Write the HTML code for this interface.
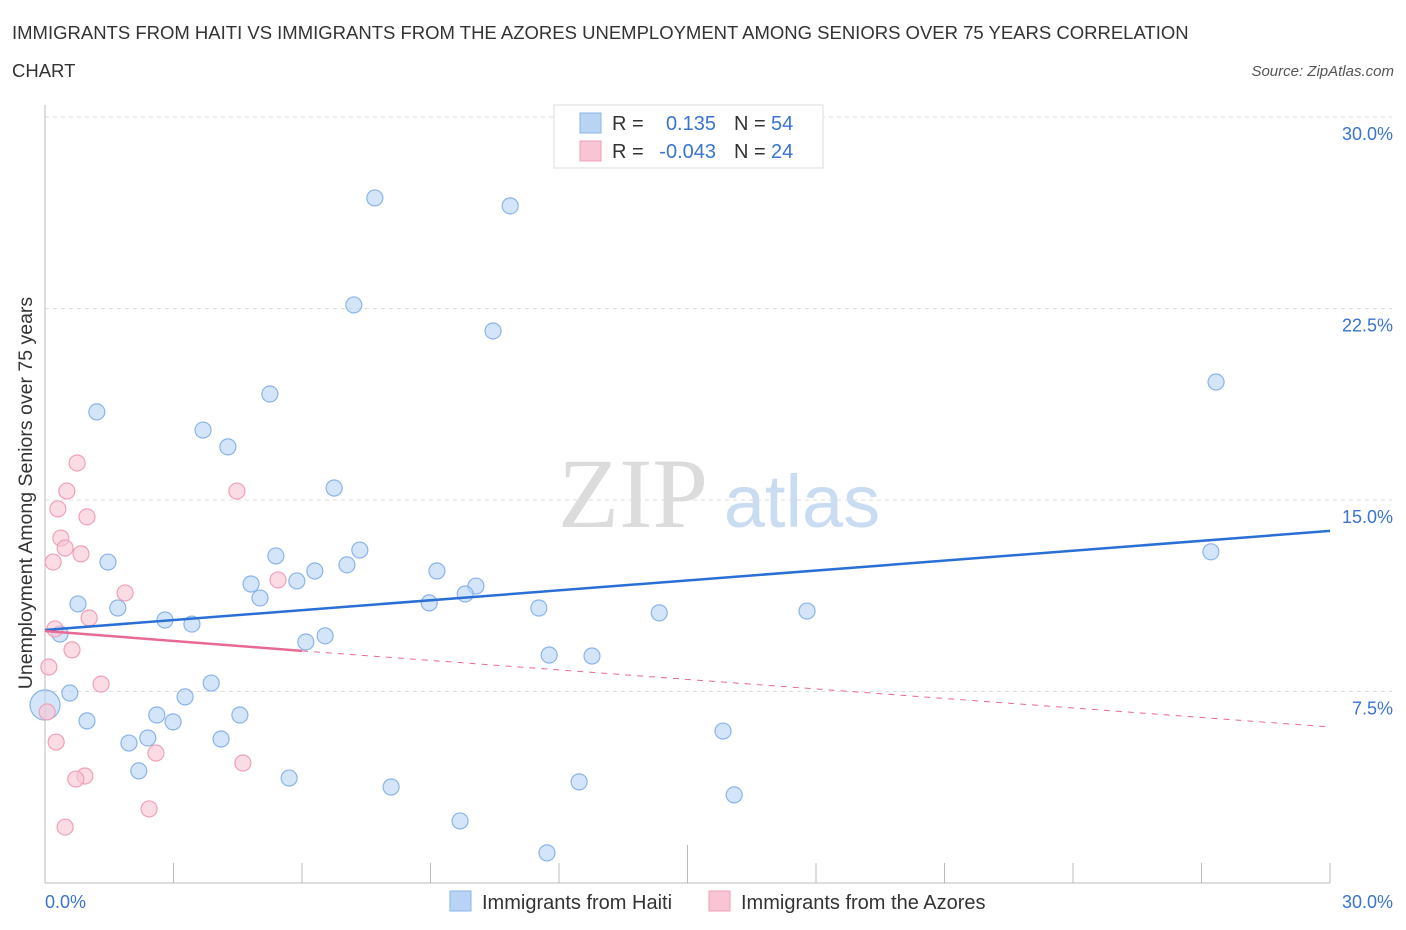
<!DOCTYPE html>
<html><head><meta charset="utf-8"><style>
body{margin:0;background:#fff;font-family:"Liberation Sans",sans-serif;}
svg{display:block}
</style></head><body>
<svg id="c" width="1406" height="930" xmlns="http://www.w3.org/2000/svg">
<text x="12" y="39" font-size="18.5" fill="#333">IMMIGRANTS FROM HAITI VS IMMIGRANTS FROM THE AZORES UNEMPLOYMENT AMONG SENIORS OVER 75 YEARS CORRELATION</text>
<text x="12" y="77" font-size="18.5" fill="#333">CHART</text>
<text x="1394" y="76" font-size="15" fill="#555" font-style="italic" text-anchor="end">Source: ZipAtlas.com</text>
<g>
<text x="633" y="527" font-size="100" font-family="Liberation Serif,serif" fill="#dcdcdc" text-anchor="middle">ZIP</text>
<text x="802" y="527" font-size="74" fill="#c9dcf2" text-anchor="middle">atlas</text>
</g>
<g id="grid"></g><g id="axes"></g><g id="pts"></g><g id="trend"></g>
<text x="32" y="493" font-size="19.5" fill="#333" text-anchor="middle" transform="rotate(-90 32 493)">Unemployment Among Seniors over 75 years</text>
<g>
<rect x="554" y="105" width="269" height="63" fill="#fff" stroke="#ddd"/>
<rect x="580" y="113" width="21" height="20" fill="#b9d3f5" stroke="#8ab4e8"/>
<rect x="580" y="141" width="21" height="20" fill="#f9c4d3" stroke="#f0a0b8"/>
<text x="612" y="130" font-size="20" fill="#333">R =</text>
<text x="716" y="130" font-size="20" fill="#3a74d0" text-anchor="end">0.135</text>
<text x="734" y="130" font-size="20" fill="#333">N =</text>
<text x="771" y="130" font-size="20" fill="#3a74d0">54</text>
<text x="612" y="158" font-size="20" fill="#333">R =</text>
<text x="716" y="158" font-size="20" fill="#3a74d0" text-anchor="end">-0.043</text>
<text x="734" y="158" font-size="20" fill="#333">N =</text>
<text x="771" y="158" font-size="20" fill="#3a74d0">24</text>
</g>
<g>
<rect x="450" y="891" width="21" height="20" fill="#b9d3f5" stroke="#8ab4e8"/>
<text x="482" y="909" font-size="20" fill="#333">Immigrants from Haiti</text>
<rect x="709" y="891" width="21" height="20" fill="#f9c4d3" stroke="#f0a0b8"/>
<text x="741" y="909" font-size="20" fill="#333">Immigrants from the Azores</text>
</g>
</svg>
<script>
const haitiX=[7.70,10.86,7.21,10.46,27.34,1.21,5.25,3.69,4.27,6.75,7.35,5.39,1.47,7.05,6.30,5.88,4.81,5.02,9.15,10.06,9.81,8.97,0.77,1.70,11.53,14.34,17.79,27.22,2.80,3.43,0.35,6.54,6.09,11.77,12.77,0.58,0,3.27,3.88,0.98,2.61,2.99,4.55,2.40,1.96,4.11,15.83,2.19,5.70,8.08,12.47,16.09,9.69,11.72];
const haitiY=[26.83,26.52,22.64,21.62,19.62,18.45,19.15,17.74,17.08,15.47,13.04,12.81,12.57,12.46,12.22,11.83,11.71,11.16,12.22,11.63,11.32,10.97,10.93,10.77,10.77,10.58,10.65,12.97,10.30,10.14,9.75,9.68,9.44,8.93,8.89,7.44,6.97,7.29,7.83,6.35,6.58,6.31,6.58,5.68,5.48,5.64,5.95,4.39,4.11,3.76,3.96,3.45,2.43,1.18];
const azoresX=[0.75,0.51,4.48,0.30,0.98,0.37,0.47,0.84,0.19,1.87,1.03,0.23,0.63,0.09,1.31,5.44,0.05,0.26,2.59,4.62,0.93,0.72,2.43,0.47];
const azoresY=[16.45,15.35,15.35,14.65,14.34,13.51,13.12,12.89,12.57,11.36,10.38,9.95,9.13,8.46,7.79,11.87,6.70,5.52,5.09,4.70,4.19,4.07,2.90,2.19];
const yTicks=[7.5,15,22.5,30];
const yTickLabels=["7.5%","15.0%","22.5%","30.0%"];
const haitiTrend=[9.91,13.79];
const azoresTrend=[9.87,9.09,6.11];
const azoresSolidEnd=6;
const NS="http://www.w3.org/2000/svg";
const X0=45,X1=1330,Y0=883,Y1=117;
const sx=v=>X0+(X1-X0)*v/30, sy=v=>Y0-(Y0-Y1)*v/30;
function mk(t,a,p){const e=document.createElementNS(NS,t);for(const k in a)e.setAttribute(k,a[k]);p.appendChild(e);return e;}
const grid=document.getElementById('grid'),axes=document.getElementById('axes'),pts=document.getElementById('pts'),trend=document.getElementById('trend');
yTicks.forEach((v,i)=>{
 const l=mk('line',{x1:X0,x2:1392,y1:sy(v),y2:sy(v),stroke:'#ddd','stroke-dasharray':'4,4'},grid);
 
 
 const t=mk('text',{x:1393,y:sy(v)+23,'font-size':18,fill:'#3a74d0','text-anchor':'end'},grid);
 t.textContent=yTickLabels[i];
 
 
});
const ya=mk('line',{x1:X0,x2:X0,y1:105,y2:Y0,stroke:'#bbb'},axes);


const xa=mk('line',{x1:X0,x2:X1,y1:Y0,y2:Y0,stroke:'#bbb'},axes);


for(let i=1;i<=10;i++){
 const t=mk('line',{x1:sx(i*3),x2:sx(i*3),y1:i==5?845:863,y2:Y0,stroke:'#bbb'},axes);
 
 
}
const xl0=mk('text',{x:45,y:908,'font-size':18,fill:'#3a74d0'},axes);xl0.textContent='0.0%';


const xl1=mk('text',{x:1393,y:908,'font-size':18,fill:'#3a74d0','text-anchor':'end'},axes);xl1.textContent='30.0%';


haitiX.forEach((v,i)=>{
 const c=mk('circle',{cx:sx(v),cy:sy(haitiY[i]),r:v==0?15:8,fill:'rgba(185,211,245,0.6)',stroke:'#8ab4e8','stroke-width':1.2},pts);
 
 
});
azoresX.forEach((v,i)=>{
 const c=mk('circle',{cx:sx(v),cy:sy(azoresY[i]),r:8,fill:'rgba(249,196,211,0.6)',stroke:'#f0a0b8','stroke-width':1.2},pts);
 
 
});
const bl=mk('line',{x1:sx(0),y1:sy(haitiTrend[0]),x2:sx(30),y2:sy(haitiTrend[1]),stroke:'#2a6fd6','stroke-width':2.5},trend);


const pl=mk('line',{x1:sx(0),y1:sy(azoresTrend[0]),x2:sx(azoresSolidEnd),y2:sy(azoresTrend[1]),stroke:'#e86a94','stroke-width':2.5},trend);


const pd=mk('line',{x1:sx(azoresSolidEnd),y1:sy(azoresTrend[1]),x2:sx(30),y2:sy(azoresTrend[2]),stroke:'#e86a94','stroke-width':1,'stroke-dasharray':'6,6'},trend);


</script>
</body></html>
